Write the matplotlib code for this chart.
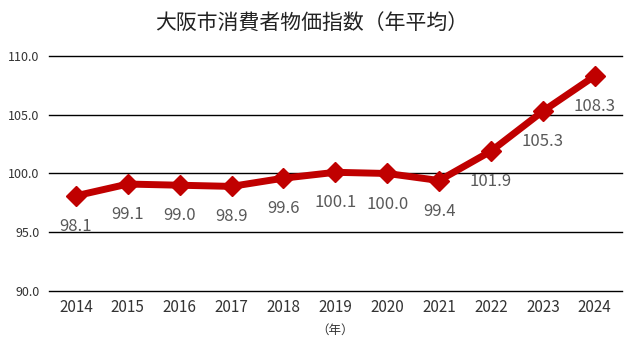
import matplotlib
matplotlib.use("Agg")
import matplotlib.pyplot as plt

plt.rcParams['font.family'] = ['Noto Sans CJK JP', 'DejaVu Sans']

years = ["2014", "2015", "2016", "2017", "2018", "2019", "2020", "2021", "2022", "2023", "2024"]
values = [98.1, 99.1, 99.0, 98.9, 99.6, 100.1, 100.0, 99.4, 101.9, 105.3, 108.3]
yticks = [90.0, 95.0, 100.0, 105.0, 110.0]
title = "大阪市消費者物価指数（年平均）"

fig = plt.figure(figsize=(6.3, 3.48), dpi=100)
ax = fig.add_axes([0.0778, 0.164, 0.909, 0.675])

x = list(range(len(years)))
ax.plot(x, values, color="#C00000", linewidth=5, marker="D", markersize=10,
        zorder=3, solid_joinstyle="miter")
for xi, v in zip(x, values):
    ax.annotate(f"{v:.1f}", (xi, v), xytext=(0, -22), textcoords="offset points",
                ha="center", va="center", fontsize=12, color="#595959", zorder=4)

ax.set_xlim(-0.52, 10.52)
ax.set_ylim(90, 110)
ax.set_yticks(yticks)
ax.set_yticklabels([f"{t:.1f}" for t in yticks], fontsize=9, color="#333333")
ax.set_xticks(x)
ax.set_xticklabels(years, fontsize=11, color="#333333")
ax.tick_params(axis="both", length=0)
ax.tick_params(axis="x", pad=6)
ax.tick_params(axis="y", pad=7)
for t in yticks:
    ax.axhline(t, color="black", linewidth=1, zorder=1, clip_on=False)
for s in ax.spines.values():
    s.set_visible(False)

fig.text(0.0778 + (5 + 0.52) / 11.04 * 0.909, 1 - 330 / 348, "（年）",
         ha="center", va="center", fontsize=9, color="#333333")
fig.text(312 / 630, 1 - 24 / 348, title, ha="center", va="center", fontsize=15, color="#222222")

fig.savefig("out.png", dpi=100)
